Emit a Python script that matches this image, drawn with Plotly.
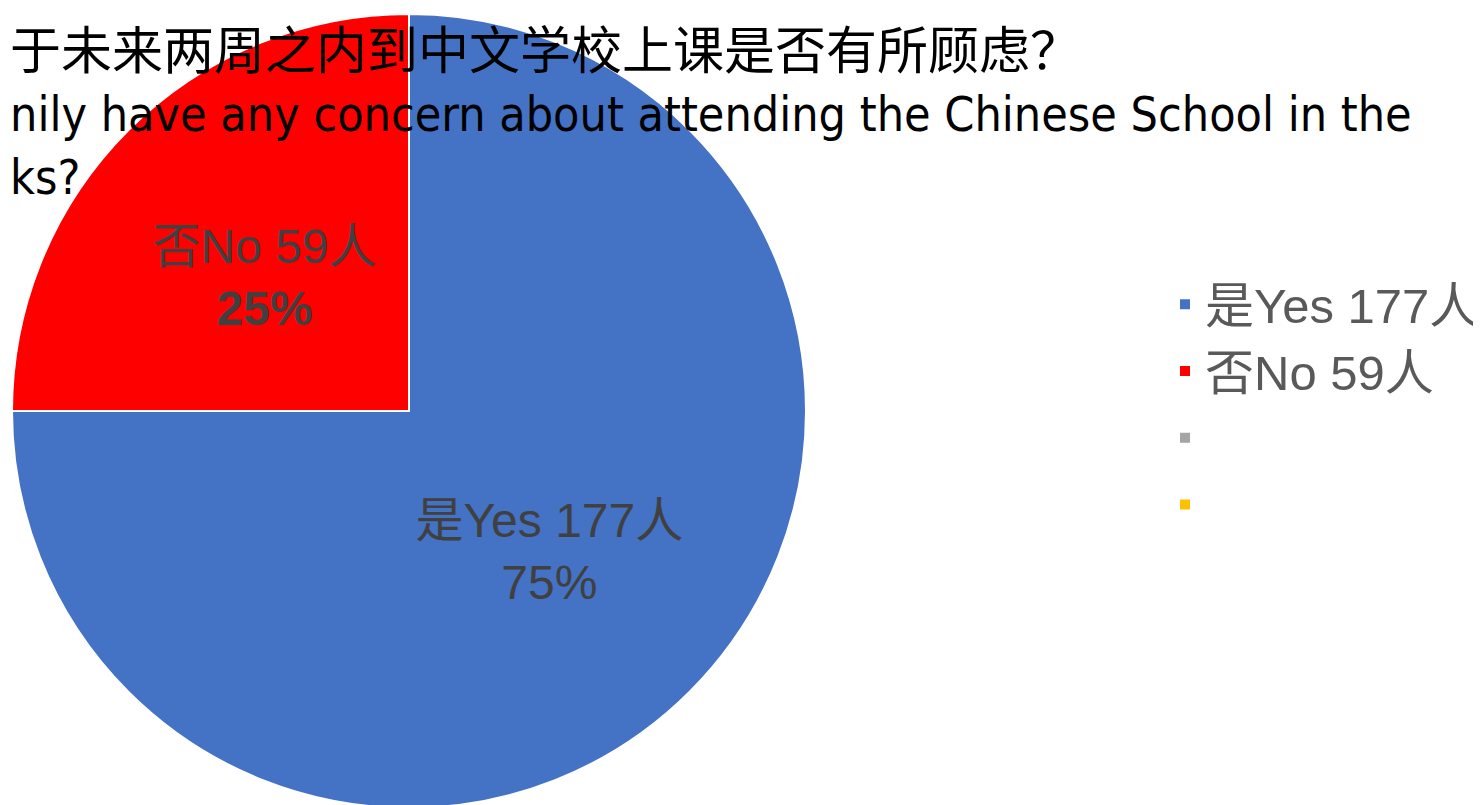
import plotly.graph_objects as go

# ---- data ----
labels = ["是Yes 177人", "否No 59人", " ", "  "]
values = [177, 59, 0, 0]
percents = ["75%", "25%", "", ""]
colors = ["#4472C4", "#FF0000", "#A5A5A5", "#FFC000"]
# title as visible in the reference (its left part runs off the canvas)
title_lines = [
    "于未来两周之内到中文学校上课是否有所顾虑？",
    "nily have any concern about attending the Chinese School in the",
    "ks?",
]

W, H = 1481, 805
OFF = 8  # page body margin offset of the plot in the screenshot
LATIN = "Liberation Sans, Arial, Noto Sans CJK SC"
NARROW = "DejaVu Sans Condensed, Liberation Sans Narrow, Noto Sans CJK SC"
NB = "\u00a0"

slice_text = [
    labels[0] + "<br>" + percents[0],
    # a blank first line and leading spaces nudge the label like the original placement
    NB * 3 + "<br>" + NB * 3 + labels[1] + "<br>" + NB * 3 + "<b>" + percents[1] + "</b>",
    "",
    "",
]

def px_x(sx):
    return (sx - OFF) / W

def px_y(sy):
    return 1 - (sy - OFF) / H

fig = go.Figure()
fig.add_trace(go.Pie(
    labels=labels,
    values=values,
    text=slice_text,
    textinfo="text",
    textposition="inside",
    insidetextorientation="horizontal",
    sort=False,
    direction="clockwise",
    rotation=0,
    marker=dict(colors=colors, line=dict(color="white", width=2)),
    textfont=dict(family=LATIN, size=48, color="#404040"),
    domain=dict(x=[px_x(12), px_x(806)], y=[px_y(808), px_y(14)]),
    hoverinfo="label+value+percent",
))

title_text = (
    "<span style=\"font-family:'Noto Sans CJK SC';font-size:51px\">" + title_lines[0] + "</span><br>"
    + title_lines[1] + "<br>" + title_lines[2]
)
fig.add_annotation(
    text=title_text, xref="paper", yref="paper",
    x=0, y=1, xanchor="left", yanchor="top", align="left",
    showarrow=False,
    font=dict(family=NARROW, size=48, color="#000000"),
)

fig.update_layout(
    width=W, height=H,
    margin=dict(l=0, r=0, t=0, b=0),
    paper_bgcolor="white",
    plot_bgcolor="white",
    showlegend=True,
    legend=dict(
        x=px_x(1165), y=px_y(266), xanchor="left", yanchor="top",
        font=dict(family=LATIN, size=49, color="#595959"),
        bgcolor="rgba(0,0,0,0)",
    ),
)

fig.write_html("out.html")
